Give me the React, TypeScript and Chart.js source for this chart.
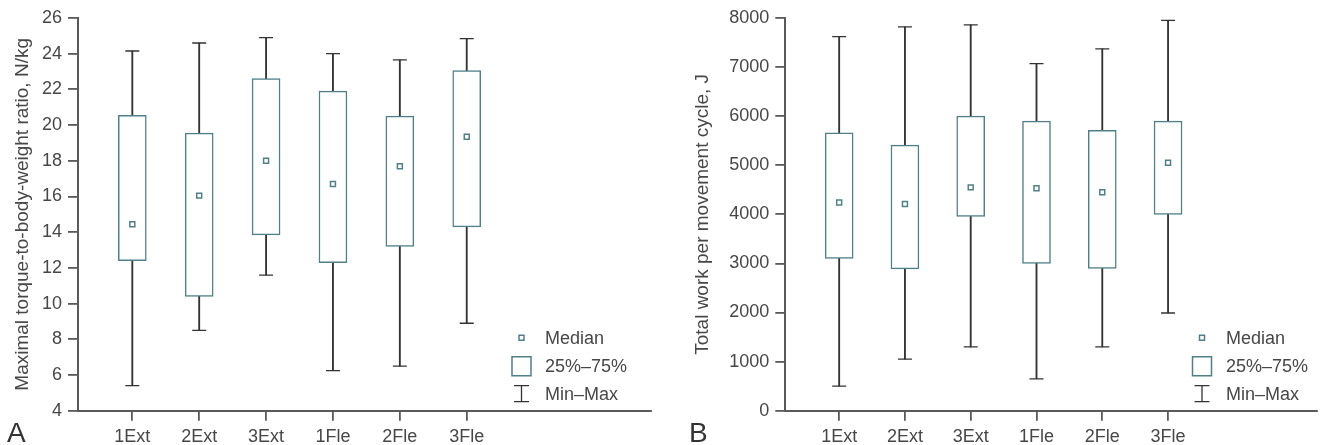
import React, { useEffect, useRef } from "react";
import { Chart, registerables } from "chart.js";

Chart.register(...registerables);

// ---------- data ----------
const categories = ["1Ext", "2Ext", "3Ext", "1Fle", "2Fle", "3Fle"];

const torqueMin = [5.4, 8.5, 11.6, 6.25, 6.5, 8.9];
const torqueQ1 = [12.4, 10.4, 13.85, 12.3, 13.2, 14.3];
const torqueMedian = [14.45, 16.05, 18.0, 16.7, 17.7, 19.35];
const torqueQ3 = [20.55, 19.55, 22.6, 21.9, 20.5, 23.05];
const torqueMax = [24.15, 24.6, 24.9, 24.0, 23.65, 24.85];

const workMin = [500, 1050, 1300, 650, 1300, 1990];
const workQ1 = [3100, 2890, 3960, 3000, 2900, 4000];
const workMedian = [4240, 4210, 4550, 4530, 4450, 5050];
const workQ3 = [5660, 5410, 6000, 5900, 5710, 5900];
const workMax = [7620, 7820, 7860, 7070, 7370, 7950];

const torqueTicks = [4, 6, 8, 10, 12, 14, 16, 18, 20, 22, 24, 26];
const workTicks = [0, 1000, 2000, 3000, 4000, 5000, 6000, 7000, 8000];

const legendLabels = ["Median", "25%\u201375%", "Min\u2013Max"];

// ---------- style ----------
const FONT = "'Liberation Sans', Arial, Helvetica, sans-serif";
const TEAL = "#4f8088";
const WHISKER = "#333333";
const AXIS = "#5a5a5a";
const TEXT = "#474747";

const boxLegendPlugin = {
  id: "boxLegend",
  afterDraw(chart: any, _args: any, opts: any) {
    const ctx = chart.ctx;
    const { iconX, textX, rowY, panelLabel, panelX, panelY } = opts;
    ctx.save();
    ctx.lineWidth = 1.5;
    ctx.strokeStyle = TEAL;
    ctx.fillStyle = "#fff";
    ctx.beginPath();
    ctx.rect(iconX - 2.5, rowY[0] - 2.5, 5, 5);
    ctx.fill();
    ctx.stroke();
    ctx.beginPath();
    ctx.rect(iconX - 9.5, rowY[1] - 9.5, 19, 19);
    ctx.fill();
    ctx.stroke();
    ctx.strokeStyle = WHISKER;
    ctx.lineWidth = 1.3;
    ctx.beginPath();
    ctx.moveTo(iconX, rowY[2] - 8);
    ctx.lineTo(iconX, rowY[2] + 8);
    ctx.moveTo(iconX - 7.5, rowY[2] - 8);
    ctx.lineTo(iconX + 7.5, rowY[2] - 8);
    ctx.moveTo(iconX - 7.5, rowY[2] + 8);
    ctx.lineTo(iconX + 7.5, rowY[2] + 8);
    ctx.stroke();
    ctx.fillStyle = TEXT;
    ctx.font = `18px ${FONT}`;
    ctx.textBaseline = "middle";
    ctx.textAlign = "left";
    legendLabels.forEach((t, i) => ctx.fillText(t, textX, rowY[i] + 1));
    ctx.font = `28px ${FONT}`;
    ctx.fillStyle = "#333";
    ctx.textBaseline = "alphabetic";
    ctx.fillText(panelLabel, panelX, panelY);
    ctx.restore();
  },
};

function makeConfig(p: any) {
  const { min, q1, med, q3, max, yTicks, title, xMin, xMax, yAxisWidth, padLeft, padRight, legend } = p;
  const pts = (arr: number[]) => arr.map((v, i) => ({ x: i + 1, y: v }));
  const ranges = (a: number[], b: number[]) => a.map((v, i) => ({ x: i + 1, y: [v, b[i]] }));
  return {
    type: "bar",
    data: {
      datasets: [
        {
          type: "scatter",
          data: pts(med),
          pointStyle: "rect",
          radius: 3.5,
          borderWidth: 1.5,
          borderColor: TEAL,
          backgroundColor: "#fff",
          order: 0,
        },
        {
          type: "scatter",
          data: [...pts(min), ...pts(max)],
          pointStyle: "line",
          radius: 7,
          borderWidth: 1.3,
          borderColor: WHISKER,
          order: 0,
        },
        {
          type: "bar",
          data: ranges(q1, q3),
          barThickness: 28,
          grouped: false,
          borderWidth: 1.5,
          borderColor: TEAL,
          backgroundColor: "#fff",
          borderSkipped: false,
          order: 1,
        },
        {
          type: "bar",
          data: ranges(min, max),
          barThickness: 1.2,
          grouped: false,
          borderWidth: 0,
          backgroundColor: WHISKER,
          order: 2,
        },
      ],
    },
    options: {
      animation: false,
      responsive: false,
      events: [],
      layout: { padding: { left: padLeft, right: padRight, top: 18, bottom: 0 } },
      plugins: {
        legend: { display: false },
        tooltip: { enabled: false },
        boxLegend: legend,
      },
      scales: {
        x: {
          type: "linear",
          offset: false,
          min: xMin,
          max: xMax,
          afterBuildTicks: (s: any) => {
            s.ticks = categories.map((_, i) => ({ value: i + 1 }));
          },
          afterFit: (s: any) => {
            s.height = 34.3;
          },
          ticks: {
            autoSkip: false,
            maxRotation: 0,
            padding: 6,
            color: TEXT,
            font: { family: FONT, size: 18 },
            callback: (v: number) => categories[v - 1] ?? "",
          },
          grid: { offset: false, drawOnChartArea: false, drawTicks: true, tickLength: 10, color: AXIS, lineWidth: 1.8 },
          border: { display: true, color: AXIS, width: 2 },
        },
        y: {
          type: "linear",
          min: yTicks[0],
          max: yTicks[yTicks.length - 1],
          afterBuildTicks: (s: any) => {
            s.ticks = yTicks.map((v: number) => ({ value: v }));
          },
          afterFit: (s: any) => {
            s.width = yAxisWidth;
          },
          ticks: {
            padding: 6,
            color: TEXT,
            font: { family: FONT, size: 18 },
            callback: (v: number) => String(v),
          },
          title: {
            display: true,
            text: title,
            color: TEXT,
            font: { family: FONT, size: 19 },
            padding: { top: 4, bottom: 4 },
          },
          grid: { drawOnChartArea: false, drawTicks: true, tickLength: 10, color: AXIS, lineWidth: 1.8 },
          border: { display: true, color: AXIS, width: 2 },
        },
      },
    },
    plugins: [boxLegendPlugin],
  };
}

function BoxChart(props: any) {
  const ref = useRef<HTMLCanvasElement | null>(null);
  useEffect(() => {
    if (!ref.current) return;
    const chart = new Chart(ref.current, makeConfig(props.cfg) as any);
    return () => chart.destroy();
  }, []);
  return (
    <canvas
      ref={ref}
      width={props.width}
      height={445}
      style={{ position: "absolute", left: props.left, top: 0, width: props.width, height: 445 }}
    />
  );
}

export default function App() {
  const cfgA = {
    min: torqueMin,
    q1: torqueQ1,
    med: torqueMedian,
    q3: torqueQ3,
    max: torqueMax,
    yTicks: torqueTicks,
    title: "Maximal torque-to-body-weight ratio, N/kg",
    xMin: 0.188,
    xMax: 8.755,
    padLeft: 7,
    yAxisWidth: 71,
    padRight: 9,
    legend: { iconX: 521.5, textX: 545, rowY: [337.7, 366.3, 393.7], panelLabel: "A", panelX: 7, panelY: 442 },
  };
  const cfgB = {
    min: workMin,
    q1: workQ1,
    med: workMedian,
    q3: workQ3,
    max: workMax,
    yTicks: workTicks,
    title: "Total work per movement cycle, J",
    xMin: 0.181,
    xMax: 8.26,
    padLeft: 27,
    yAxisWidth: 98.3,
    padRight: 0,
    legend: { iconX: 542, textX: 566, rowY: [337.7, 366.3, 393.7], panelLabel: "B", panelX: 29, panelY: 442 },
  };
  return (
    <div style={{ position: "absolute", left: 0, top: 0, width: 1325, height: 445, background: "#fff" }}>
      <BoxChart left={0} width={660} cfg={cfgA} />
      <BoxChart left={660} width={665} cfg={cfgB} />
    </div>
  );
}
